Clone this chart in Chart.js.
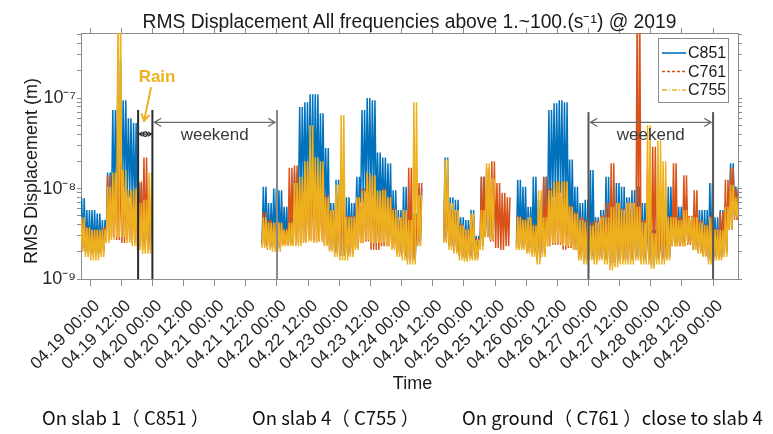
<!DOCTYPE html>
<html>
<head>
<meta charset="utf-8">
<script src="https://cdn.jsdelivr.net/npm/chart.js@4.4.1/dist/chart.umd.min.js"></script>
<style>
  html, body { margin: 0; padding: 0; background: #fff; }
  canvas { display: block; }
</style>
</head>
<body>
<canvas id="chart" width="773" height="434"></canvas>
<script>
// RMS displacement, three sensors, 2-hour bins (lower / upper envelope)
// bin i is centred on hour (binStartHour + i * binStepHours), hour 0 = 04.19 00:00
const binStartHour = -3;
const binStepHours = 2;

const tickHours = [0, 12, 24, 36, 48, 60, 72, 84, 96, 108, 120, 132, 144, 156, 168, 180, 192, 204, 216, 228, 240];
const tickLabels = ['04.19 00:00', '04.19 12:00', '04.20 00:00', '04.20 12:00', '04.21 00:00', '04.21 12:00',
  '04.22 00:00', '04.22 12:00', '04.23 00:00', '04.23 12:00', '04.24 00:00', '04.24 12:00', '04.25 00:00',
  '04.25 12:00', '04.26 00:00', '04.26 12:00', '04.27 00:00', '04.27 12:00', '04.28 00:00', '04.28 12:00',
  '04.29 00:00'];

const yMajorTicks = [1e-9, 1e-8, 1e-7];
const yMajorLabels = ['10\u207B\u2079', '10\u207B\u2078', '10\u207B\u2077'];
const yMinorTicks = [2e-9, 3e-9, 4e-9, 5e-9, 6e-9, 7e-9, 8e-9, 9e-9,
  2e-8, 3e-8, 4e-8, 5e-8, 6e-8, 7e-8, 8e-8, 9e-8, 2e-7, 3e-7, 4e-7, 5e-7];

const N = null;
// C851 (slab 1)
const c851Lo = [
  2.3e-9, 2.0e-9, 1.9e-9, 1.9e-9, 2.0e-9, 3.5e-9, 6.0e-9, 8.0e-9, 9.0e-9, 8.0e-9,
  6.0e-9, 3.5e-9, 2.5e-9, 2.5e-9, N, N, N, N, N, N,
  N, N, N, N, N, N, N, N, N, N,
  N, N, N, N, N, 2.4e-9, 2.3e-9, 2.3e-9, 2.3e-9, 2.5e-9,
  2.5e-9, 3.0e-9, 7.0e-9, 9.0e-9, 1.0e-8, 9.0e-9, 8.0e-9, 5.0e-9, 2.5e-9, 2.0e-9,
  1.8e-9, 1.8e-9, 2.0e-9, 3.0e-9, 7.0e-9, 9.0e-9, 8.0e-9, 5.0e-9, 5.0e-9, 4.0e-9,
  2.5e-9, 2.0e-9, 1.8e-9, 1.7e-9, 1.7e-9, 2.6e-9, N, N, N, N,
  2.8e-9, 2.3e-9, 2.1e-9, 1.8e-9, 1.7e-9, 1.8e-9, 1.8e-9, 2.3e-9, 3.0e-9, 2.8e-9,
  N, N, N, N, 2.4e-9, 2.4e-9, 2.2e-9, 2.0e-9, 1.7e-9, 2.0e-9,
  5.0e-9, 8.0e-9, 9.0e-9, 6.0e-9, 3.0e-9, 2.4e-9, 1.9e-9, 1.7e-9, 1.8e-9, 1.7e-9,
  1.8e-9, 1.7e-9, 1.5e-9, 1.6e-9, 1.7e-9, 1.7e-9, 1.7e-9, 1.8e-9, 1.7e-9, 1.7e-9,
  1.5e-9, 1.7e-9, 1.7e-9, 1.8e-9, 2.5e-9, 2.5e-9, 2.5e-9, 2.6e-9, 2.3e-9, 2.1e-9,
  1.9e-9, 1.7e-9, 1.8e-9, 1.8e-9, 2.0e-9, 3.8e-9, 5.0e-9
];
const c851Hi = [
  7.8e-9, 5.8e-9, 5.8e-9, 5.3e-9, 4.5e-9, 1.5e-8, 7.4e-8, 2.7e-7, 9.5e-8, 6.0e-8,
  5.3e-8, 1.15e-8, 4.8e-9, 4.8e-9, N, N, N, N, N, N,
  N, N, N, N, N, N, N, N, N, N,
  N, N, N, N, N, 1.05e-8, 6.9e-9, 1.0e-8, 9.6e-9, 6.3e-9,
  4.8e-9, 1.5e-8, 8.0e-8, 9.0e-8, 1.1e-7, 1.1e-7, 6.8e-8, 2.8e-8, 6.9e-9, 1.25e-8,
  9.0e-9, 8.0e-9, 6.9e-9, 1.35e-8, 7.4e-8, 1.0e-7, 9.5e-8, 2.5e-8, 2.2e-8, 1.9e-8,
  9.6e-9, 5.8e-9, 1.05e-8, 6.9e-9, 5.3e-9, 1.0e-8, N, N, N, N,
  2.2e-8, 8.0e-9, 7.5e-9, 4.8e-9, 4.5e-9, 5.8e-9, 3.0e-9, 1.35e-8, 1.05e-8, 8.0e-9,
  N, N, N, N, 1.25e-8, 1.05e-8, 6.3e-9, 1.35e-8, 7.5e-9, 1.35e-8,
  7.4e-8, 8.8e-8, 9.5e-8, 9.0e-8, 2.1e-8, 1.05e-8, 6.9e-9, 7.5e-9, 1.6e-8, 4.8e-9,
  5.8e-9, 1.35e-8, 1.05e-8, 1.15e-8, 1.05e-8, 8.0e-9, 9.6e-9, 1.05e-8, 6.9e-9, 8.0e-9,
  3.5e-9, 4.8e-9, 4.5e-9, 1.05e-8, 6.9e-9, 6.3e-9, 8.0e-9, 4.5e-9, 6.3e-9, 5.8e-9,
  5.8e-9, 1.15e-8, 4.8e-9, 5.8e-9, 6.9e-9, 1.9e-8, 1.05e-8
];
// C761 (ground, close to slab 4)
const c761Lo = [
  2.2e-9, 2.0e-9, 1.9e-9, 1.9e-9, 2.0e-9, 2.7e-9, 2.9e-9, 2.7e-9, 2.5e-9, 2.7e-9,
  2.5e-9, 2.3e-9, 2.1e-9, 2.1e-9, N, N, N, N, N, N,
  N, N, N, N, N, N, N, N, N, N,
  N, N, N, N, N, 2.4e-9, 2.3e-9, 2.2e-9, 2.2e-9, 2.4e-9,
  2.4e-9, 2.4e-9, 2.5e-9, 2.6e-9, 2.7e-9, 2.6e-9, 2.6e-9, 2.4e-9, 2.1e-9, 1.9e-9,
  1.8e-9, 1.8e-9, 1.9e-9, 2.2e-9, 2.5e-9, 2.6e-9, 2.1e-9, 2.1e-9, 2.3e-9, 2.3e-9,
  2.2e-9, 1.9e-9, 1.8e-9, 1.6e-9, 1.6e-9, 2.4e-9, N, N, N, N,
  2.6e-9, 2.3e-9, 2.0e-9, 1.8e-9, 1.7e-9, 1.7e-9, 1.7e-9, 2.3e-9, 2.9e-9, 2.6e-9,
  2.2e-9, 2.1e-9, 2.3e-9, N, 2.2e-9, 2.2e-9, 2.0e-9, 1.9e-9, 1.6e-9, 1.9e-9,
  2.3e-9, 2.4e-9, 2.4e-9, 2.1e-9, 2.2e-9, 2.1e-9, 1.7e-9, 1.6e-9, 1.7e-9, 1.6e-9,
  1.7e-9, 1.6e-9, 1.4e-9, 1.5e-9, 1.6e-9, 1.6e-9, 1.6e-9, 1.7e-9, 1.6e-9, 1.6e-9,
  1.4e-9, 1.6e-9, 1.6e-9, 1.7e-9, 2.3e-9, 2.3e-9, 2.3e-9, 2.4e-9, 2.1e-9, 2.0e-9,
  1.8e-9, 1.6e-9, 1.7e-9, 1.7e-9, 1.9e-9, 3.5e-9, 4.5e-9
];
const c761Hi = [
  4.5e-9, 3.7e-9, 3.5e-9, 3.5e-9, 3.7e-9, 1.4e-8, 1.2e-8, 2.0e-8, 1.2e-8, 9.0e-9,
  9.0e-9, 1.2e-8, 2.2e-8, 9.0e-9, N, N, N, N, N, N,
  N, N, N, N, N, N, N, N, N, N,
  N, N, N, N, N, 5.5e-9, 4.5e-9, 4.2e-9, 4.2e-9, 3.6e-9,
  1.7e-8, 1.8e-8, 1.2e-8, 1.6e-8, 1.6e-8, 1.5e-8, 1.6e-8, 8.5e-9, 5.8e-9, 9.0e-9,
  9.0e-9, 5.0e-9, 5.0e-9, 8.0e-9, 1.0e-8, 1.4e-8, 1.3e-8, 9.0e-9, 1.0e-8, 8.0e-9,
  6.0e-9, 4.8e-9, 5.5e-9, 1.7e-8, 5.0e-9, 1.15e-8, N, N, N, N,
  1.2e-8, 6.5e-9, 5.8e-9, 4.0e-9, 3.6e-9, 5.0e-9, 2.8e-9, 1.35e-8, 1.7e-8, 2.0e-8,
  1.15e-8, 9.0e-9, 8.0e-9, N, 5.0e-9, 4.6e-9, 4.8e-9, 4.0e-9, 6.0e-9, 1.35e-8,
  1.0e-8, 1.2e-8, 1.2e-8, 1.2e-8, 6.5e-9, 5.5e-9, 4.8e-9, 4.5e-9, 4.2e-9, 4.5e-9,
  5.0e-9, 7.0e-9, 1.9e-8, 7.0e-9, 6.0e-9, 7.0e-9, 7.0e-9, 1.0e-6, 4.5e-9, 1.6e-8,
  2.9e-8, 5.0e-9, 6.0e-9, 5.0e-9, 1.9e-8, 4.8e-9, 1.4e-8, 5.0e-9, 9.6e-9, 4.5e-9,
  4.0e-9, 5.0e-9, 3.6e-9, 5.5e-9, 1.25e-8, 1.7e-8, 1.0e-8
];
// C755 (slab 4)
const c755Lo = [
  2.0e-9, 1.75e-9, 1.6e-9, 1.6e-9, 1.75e-9, 2.5e-9, 2.7e-9, 2.9e-9, 2.9e-9, 2.5e-9,
  2.3e-9, 2.1e-9, 1.9e-9, 1.9e-9, N, N, N, N, N, N,
  N, N, N, N, N, N, N, N, N, N,
  N, N, N, N, N, 2.2e-9, 2.1e-9, 2.0e-9, 2.0e-9, 2.3e-9,
  2.3e-9, 2.3e-9, 2.3e-9, 2.5e-9, 2.6e-9, 2.5e-9, 2.6e-9, 2.3e-9, 2.0e-9, 1.75e-9,
  1.6e-9, 1.6e-9, 1.75e-9, 2.1e-9, 2.5e-9, 2.7e-9, 2.5e-9, 2.5e-9, 2.5e-9, 2.3e-9,
  2.1e-9, 1.75e-9, 1.6e-9, 1.45e-9, 1.45e-9, 2.3e-9, N, N, N, N,
  2.5e-9, 2.1e-9, 1.9e-9, 1.6e-9, 1.55e-9, 1.6e-9, 1.6e-9, 2.1e-9, 2.9e-9, 2.7e-9,
  N, N, N, N, 2.1e-9, 2.1e-9, 1.9e-9, 1.75e-9, 1.45e-9, 1.75e-9,
  2.3e-9, 2.5e-9, 2.5e-9, 2.3e-9, 2.3e-9, 2.1e-9, 1.6e-9, 1.45e-9, 1.6e-9, 1.45e-9,
  1.6e-9, 1.45e-9, 1.25e-9, 1.35e-9, 1.45e-9, 1.45e-9, 1.45e-9, 1.6e-9, 1.45e-9, 1.45e-9,
  1.3e-9, 1.45e-9, 1.45e-9, 1.6e-9, 2.3e-9, 2.3e-9, 2.3e-9, 2.5e-9, 2.1e-9, 1.9e-9,
  1.75e-9, 1.45e-9, 1.6e-9, 1.6e-9, 1.75e-9, 3.5e-9, 4.8e-9
];
const c755Hi = [
  4.8e-9, 3.7e-9, 3.5e-9, 3.5e-9, 3.5e-9, 1.05e-8, 1.5e-8, 1.0e-6, 1.6e-8, 9.6e-9,
  1.0e-8, 6.9e-9, 7.5e-9, 1.5e-8, N, N, N, N, N, N,
  N, N, N, N, N, N, N, N, N, N,
  N, N, N, N, N, 4.8e-9, 4.2e-9, 4.2e-9, 4.2e-9, 3.5e-9,
  4.2e-9, 1.15e-8, 1.35e-8, 2.0e-8, 5.0e-8, 2.2e-8, 2.0e-8, 8.0e-9, 5.8e-9, 1.1e-8,
  6.5e-8, 4.8e-9, 4.8e-9, 8.0e-9, 9.5e-9, 1.5e-8, 1.4e-8, 9.5e-9, 9.6e-9, 8.0e-9,
  5.8e-9, 4.8e-9, 5.8e-9, 4.5e-9, 9.0e-8, 8.5e-9, N, N, N, N,
  2.1e-8, 6.9e-9, 5.8e-9, 3.9e-9, 3.5e-9, 5.3e-9, 2.7e-9, 5.8e-9, 1.9e-8, 1.3e-8,
  N, N, N, N, 4.8e-9, 4.5e-9, 4.8e-9, 3.9e-9, 9.6e-9, 4.8e-9,
  9.6e-9, 1.2e-8, 1.2e-8, 1.2e-8, 6.3e-9, 5.3e-9, 4.5e-9, 4.2e-9, 3.9e-9, 4.2e-9,
  4.8e-9, 4.8e-9, 6.3e-9, 6.9e-9, 5.8e-9, 6.9e-9, 6.9e-9, 6.3e-9, 4.2e-9, 5.0e-8,
  3.2e-9, 3.4e-8, 2.0e-8, 4.8e-9, 4.8e-9, 4.5e-9, 5.8e-9, 4.8e-9, 4.8e-9, 4.2e-9,
  3.9e-9, 4.8e-9, 3.5e-9, 3.5e-9, 6.3e-9, 1.1e-8, 8.0e-9
];

// annotations (hours / metres)
const markerLines = [
  { hour: 18.5, top: 7.4e-8, color: '#2b2b2b' },
  { hour: 24, top: 7.4e-8, color: '#2b2b2b' },
  { hour: 72, top: 7.4e-8, color: '#8a8a8a' },
  { hour: 192, top: 7.0e-8, color: '#555555' },
  { hour: 240, top: 7.0e-8, color: '#555555' }
];
const weekendSpans = [[24, 72], [192, 240]];
const captionTexts = ['On slab 1\uFF08 C851 \uFF09', 'On slab 4\uFF08 C755 \uFF09', 'On ground\uFF08 C761 \uFF09close to slab 4'];

const FONT = '"Liberation Sans", Arial, sans-serif';

// lower / upper envelope -> dense vertical strokes through each bin
function envelopeLine(lo, hi) {
  const pts = [];
  lo.forEach((v, i) => {
    const t = binStartHour + i * binStepHours;
    if (v === null || hi[i] === null) {
      pts.push({ x: t, y: null });
      return;
    }
    pts.push({ x: t - 0.75, y: v }, { x: t - 0.25, y: hi[i] }, { x: t + 0.25, y: v }, { x: t + 0.75, y: hi[i] });
  });
  return pts;
}

function arrowHead(ctx, x, y, angle, size) {
  ctx.beginPath();
  ctx.moveTo(x + size * Math.cos(angle + 2.6), y + size * Math.sin(angle + 2.6));
  ctx.lineTo(x, y);
  ctx.lineTo(x + size * Math.cos(angle - 2.6), y + size * Math.sin(angle - 2.6));
  ctx.stroke();
}

const overlay = {
  id: 'overlay',
  afterDatasetsDraw(chart) {
    const { ctx, scales: { x, y } } = chart;
    const px = h => x.getPixelForValue(h);
    const py = v => y.getPixelForValue(v);
    ctx.save();

    // vertical markers
    ctx.lineWidth = 2;
    markerLines.forEach(m => {
      ctx.strokeStyle = m.color;
      ctx.beginPath();
      ctx.moveTo(px(m.hour), py(m.top));
      ctx.lineTo(px(m.hour), y.bottom);
      ctx.stroke();
    });

    // weekend arrows
    ctx.strokeStyle = '#6b6b6b';
    ctx.lineWidth = 1.3;
    weekendSpans.forEach(([a, b]) => {
      const yy = py(5.4e-8);
      const x1 = px(a) + 2, x2 = px(b) - 2;
      ctx.beginPath();
      ctx.moveTo(x1, yy);
      ctx.lineTo(x2, yy);
      ctx.stroke();
      arrowHead(ctx, x1, yy, Math.PI, 8);
      arrowHead(ctx, x2, yy, 0, 8);
      ctx.fillStyle = '#3a3a3a';
      ctx.font = '17px ' + FONT;
      ctx.textAlign = 'center';
      ctx.textBaseline = 'middle';
      ctx.fillText('weekend', (px(a) + px(b)) / 2, py(3.9e-8));
    });

    // short rain span
    ctx.strokeStyle = '#2b2b2b';
    ctx.lineWidth = 1.2;
    const ry = py(4.0e-8);
    ctx.beginPath();
    ctx.moveTo(px(18.5) + 1, ry);
    ctx.lineTo(px(24) - 1, ry);
    ctx.stroke();
    arrowHead(ctx, px(18.5) + 1, ry, Math.PI, 4);
    arrowHead(ctx, px(24) - 1, ry, 0, 4);
    ctx.beginPath();
    ctx.arc((px(18.5) + px(24)) / 2, ry, 2.2, 0, Math.PI * 2);
    ctx.stroke();

    // rain label
    ctx.strokeStyle = '#EDB120';
    ctx.fillStyle = '#EDB120';
    ctx.lineWidth = 2;
    const ax1 = px(23.5), ay1 = py(1.32e-7), ax2 = px(20.8), ay2 = py(5.6e-8);
    ctx.beginPath();
    ctx.moveTo(ax1, ay1);
    ctx.lineTo(ax2, ay2);
    ctx.stroke();
    arrowHead(ctx, ax2, ay2, Math.atan2(ay2 - ay1, ax2 - ax1), 8);
    ctx.font = 'bold 17px ' + FONT;
    ctx.textAlign = 'center';
    ctx.textBaseline = 'middle';
    ctx.fillText('Rain', px(25.8), py(1.7e-7));

    ctx.restore();
  },
  afterDraw(chart) {
    const { ctx, chartArea: ca, data } = chart;
    ctx.save();

    // legend box, top right inside the axes
    const lx = ca.right - 80, ly = ca.top + 5, lw = 70, lh = 64;
    ctx.fillStyle = '#fff';
    ctx.fillRect(lx, ly, lw, lh);
    ctx.strokeStyle = '#8c8c8c';
    ctx.lineWidth = 1;
    ctx.strokeRect(lx + 0.5, ly + 0.5, lw, lh);
    ctx.font = '16px ' + FONT;
    ctx.textAlign = 'left';
    ctx.textBaseline = 'middle';
    data.datasets.forEach((ds, i) => {
      const yy = ly + 15 + i * 18.5;
      ctx.strokeStyle = ds.borderColor;
      ctx.lineWidth = 1.6;
      ctx.setLineDash(ds.legendDash);
      ctx.beginPath();
      ctx.moveTo(lx + 4, yy);
      ctx.lineTo(lx + 28, yy);
      ctx.stroke();
      ctx.setLineDash([]);
      ctx.fillStyle = '#1a1a1a';
      ctx.fillText(ds.label, lx + 30, yy + 1);
    });

    // title
    ctx.fillStyle = '#1a1a1a';
    ctx.font = '19.3px ' + FONT;
    ctx.textAlign = 'center';
    ctx.textBaseline = 'alphabetic';
    ctx.fillText('RMS Displacement All frequencies above 1.~100.(s\u207B\u00B9) @ 2019', (ca.left + ca.right) / 2, 28);

    // axis titles
    ctx.font = '18px ' + FONT;
    ctx.fillText('Time', (ca.left + ca.right) / 2 + 3, 389);
    ctx.save();
    ctx.translate(37, 171);
    ctx.rotate(-Math.PI / 2);
    ctx.fillText('RMS Displacement (m)', 0, 0);
    ctx.restore();

    // captions under the figure
    ctx.font = '18.5px "Noto Sans CJK SC", "Noto Sans", sans-serif';
    ctx.textAlign = 'left';
    ctx.fillStyle = '#111';
    const capX = [42, 252, 462];
    captionTexts.forEach((t, i) => ctx.fillText(t, capX[i], 425));

    ctx.restore();
  }
};

const axisColor = '#8c8c8c';
const yTicksAll = yMajorTicks.concat(yMinorTicks).sort((a, b) => a - b);
const isMajor = v => yMajorTicks.findIndex(m => Math.abs(m - v) / m < 1e-6);

new Chart(document.getElementById('chart'), {
  type: 'line',
  data: {
    datasets: [
      { label: 'C851', data: envelopeLine(c851Lo, c851Hi), borderColor: '#0072BD', order: 3, legendDash: [] },
      { label: 'C761', data: envelopeLine(c761Lo, c761Hi), borderColor: '#D95319', order: 2, legendDash: [3, 2] },
      { label: 'C755', data: envelopeLine(c755Lo, c755Hi), borderColor: '#EDB120', order: 1, legendDash: [5, 2, 1, 2] }
    ]
  },
  options: {
    responsive: false,
    animation: false,
    spanGaps: false,
    datasets: {
      line: { borderWidth: 1.5, pointRadius: 0, tension: 0, borderJoinStyle: 'bevel', fill: false }
    },
    layout: { padding: { top: 33, right: 35, left: 0, bottom: 0 } },
    plugins: {
      legend: { display: false },
      tooltip: { enabled: false },
      title: { display: false }
    },
    scales: {
      x: {
        type: 'linear', position: 'bottom', min: -3.5, max: 249.6,
        afterBuildTicks: s => { s.ticks = tickHours.map(v => ({ value: v })); },
        afterFit: s => { s.height = 155; },
        ticks: {
          autoSkip: false, minRotation: 45, maxRotation: 45, padding: 10, labelOffset: 7,
          color: '#262626', font: { family: FONT, size: 17 },
          callback: v => tickLabels[tickHours.indexOf(v)]
        },
        grid: { drawOnChartArea: false, drawTicks: true, tickLength: 7, color: axisColor },
        border: { display: true, color: axisColor }
      },
      x2: {
        type: 'linear', position: 'top', min: -3.5, max: 249.6,
        afterBuildTicks: s => { s.ticks = tickHours.map(v => ({ value: v })); },
        afterFit: s => { s.height = 0; },
        ticks: { display: false },
        grid: { drawOnChartArea: false, drawTicks: true, tickLength: 5, color: axisColor },
        border: { display: true, color: axisColor }
      },
      y: {
        type: 'logarithmic', position: 'left', min: 1e-9, max: 5.25e-7,
        afterBuildTicks: s => { s.ticks = yTicksAll.map(v => ({ value: v })); },
        afterFit: s => { s.width = 81; },
        ticks: {
          autoSkip: false, padding: 1, color: '#262626', font: { family: FONT, size: 18 },
          callback: v => { const k = isMajor(v); return k >= 0 ? yMajorLabels[k] : ''; }
        },
        grid: { drawOnChartArea: false, drawTicks: true, tickLength: 4, color: axisColor },
        border: { display: true, color: axisColor }
      },
      y2: {
        type: 'logarithmic', position: 'right', min: 1e-9, max: 5.25e-7,
        afterBuildTicks: s => { s.ticks = yTicksAll.map(v => ({ value: v })); },
        afterFit: s => { s.width = 0; },
        ticks: { display: false },
        grid: { drawOnChartArea: false, drawTicks: true, tickLength: 4, color: axisColor },
        border: { display: true, color: axisColor }
      }
    }
  },
  plugins: [overlay]
});
</script>
</body>
</html>
